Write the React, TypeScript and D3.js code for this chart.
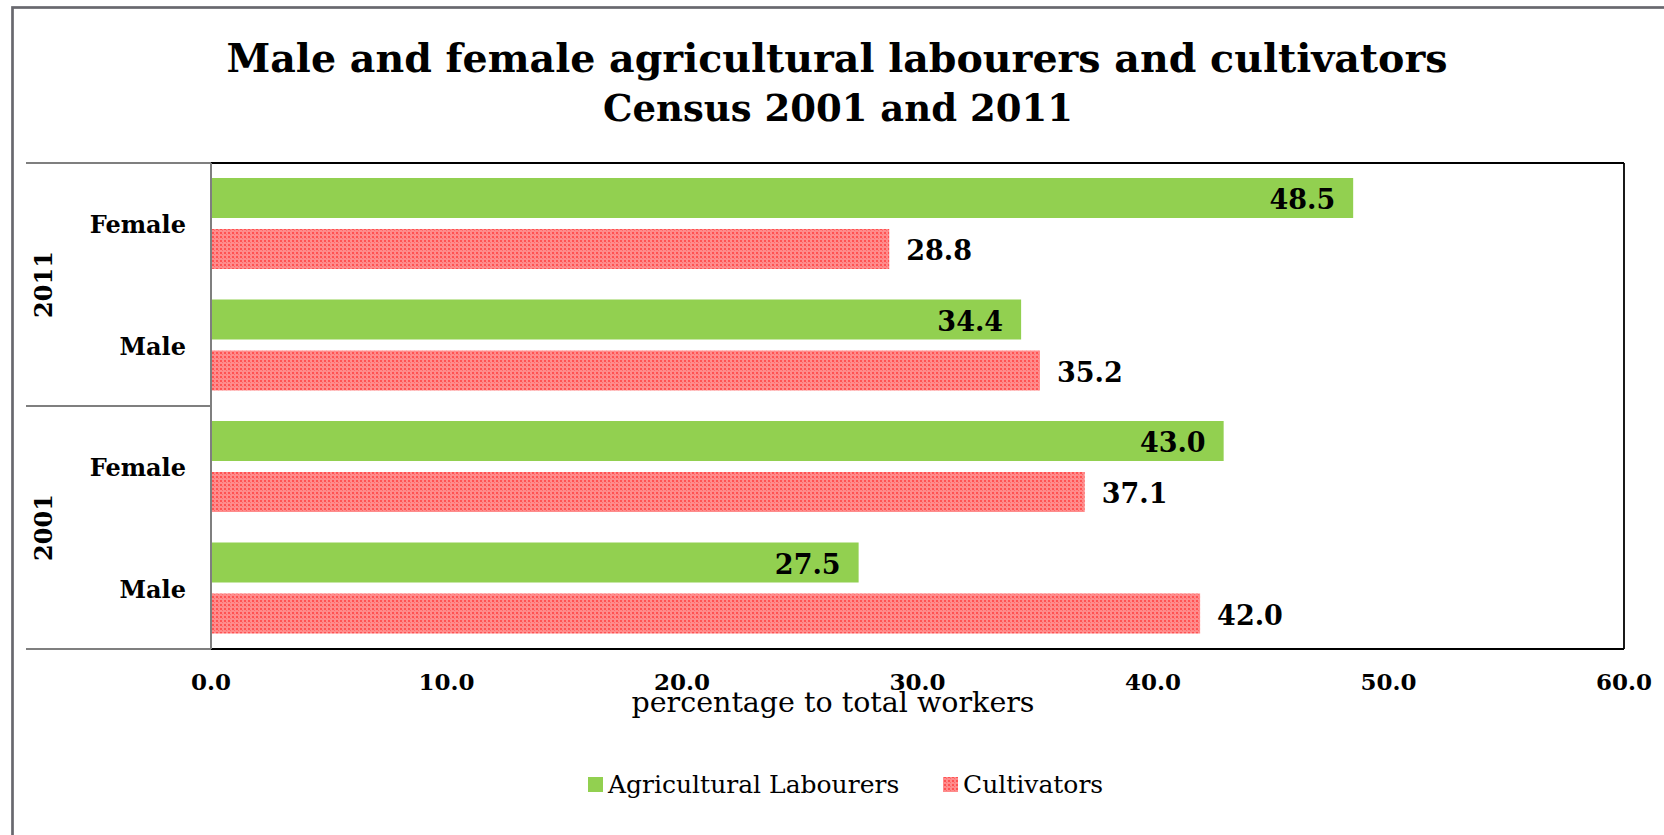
import React from "react";
import * as d3 from "d3";

const years = ["2011", "2001"];
const categories = ["2011 Female", "2011 Male", "2001 Female", "2001 Male"];
const categoryLabels = ["Female", "Male", "Female", "Male"];
const seriesNames = ["Agricultural Labourers", "Cultivators"];
const agriculturalLabourers = [48.5, 34.4, 43.0, 27.5];
const cultivators = [28.8, 35.2, 37.1, 42.0];
const xTicks = [0, 10, 20, 30, 40, 50, 60];
const titleLines = ["Male and female agricultural labourers and cultivators", "Census 2001 and 2011"];
const xAxisTitle = "percentage to total workers";

const W = 1664;
const H = 835;
const plot = { left: 211, right: 1624, top: 163, bottom: 649 };
const FONT = "'DejaVu Serif', 'Liberation Serif', serif";
const GREEN = "#92d050";

export default function App() {
  const x = d3.scaleLinear().domain([0, 60]).range([plot.left, plot.right]);
  const y = d3.scaleBand<string>().domain(categories).range([plot.top, plot.bottom]).padding(0);
  const inner = d3
    .scaleBand<string>()
    .domain(seriesNames)
    .range([15, 106])
    .paddingInner(11 / 51)
    .paddingOuter(0);
  const yearScale = d3.scaleBand<string>().domain(years).range([plot.top, plot.bottom]);
  const seriesValues = [agriculturalLabourers, cultivators];
  const fmt = d3.format(".1f");

  return (
    <svg width={W} height={H} style={{ display: "block", position: "absolute", left: 0, top: 0 }}>
      <defs>
        <pattern id="redDots" width="4" height="4" patternUnits="userSpaceOnUse">
          <rect width="4" height="4" fill="#ff8c8c" />
          <rect x="0" y="0" width="2" height="2" fill="#ff5252" />
          <rect x="2" y="2" width="1" height="1" fill="#ff6a6a" />
        </pattern>
      </defs>
      <rect x={0} y={0} width={W} height={H} fill="#fff" />
      {/* outer frame */}
      <rect x={12.5} y={7.5} width={W + 20} height={H + 20} fill="none" stroke="#68686e" strokeWidth={2.7} />

      {/* title */}
      <text
        x={837}
        y={72}
        textAnchor="middle"
        fontFamily={FONT}
        fontWeight="bold"
        fontSize={39}
        fill="#000"
        textLength={1221}
        lengthAdjust="spacingAndGlyphs"
      >
        {titleLines[0]}
      </text>
      <text
        x={838}
        y={121}
        textAnchor="middle"
        fontFamily={FONT}
        fontWeight="bold"
        fontSize={38}
        fill="#000"
        textLength={470}
        lengthAdjust="spacingAndGlyphs"
      >
        {titleLines[1]}
      </text>

      {/* bars */}
      {categories.map((c, i) =>
        seriesNames.map((s, si) => {
          const v = seriesValues[si][i];
          const y0 = (y(c) as number) + (inner(s) as number);
          const bw = inner.bandwidth();
          return (
            <g key={c + s}>
              <rect
                x={x(0)}
                y={y0}
                width={x(v) - x(0)}
                height={bw}
                fill={si === 0 ? GREEN : "url(#redDots)"}
              />
              <text
                x={si === 0 ? x(v) - 18 : x(v) + 17}
                y={y0 + bw / 2 + 11}
                textAnchor={si === 0 ? "end" : "start"}
                fontFamily={FONT}
                fontWeight="bold"
                fontSize={27}
                fill="#000"
              >
                {fmt(v)}
              </text>
            </g>
          );
        })
      )}

      {/* plot frame */}
      <line x1={plot.left} x2={plot.right} y1={plot.top} y2={plot.top} stroke="#000" strokeWidth={1.8} />
      <line x1={plot.right} x2={plot.right} y1={plot.top} y2={plot.bottom} stroke="#000" strokeWidth={1.8} />
      <line x1={plot.left} x2={plot.right} y1={plot.bottom} y2={plot.bottom} stroke="#000" strokeWidth={1.8} />
      <line x1={plot.left} x2={plot.left} y1={plot.top} y2={plot.bottom} stroke="#7f7f7f" strokeWidth={2} />

      {/* category dividers */}
      {[plot.top, (yearScale("2001") as number), plot.bottom].map((yy, i) => (
        <line key={i} x1={26} x2={plot.left} y1={yy} y2={yy} stroke="#7f7f7f" strokeWidth={2} />
      ))}

      {/* category labels */}
      {categories.map((c, i) => (
        <text
          key={c}
          x={186}
          y={(y(c) as number) + y.bandwidth() / 2 + 9.5}
          textAnchor="end"
          fontFamily={FONT}
          fontWeight="bold"
          fontSize={24}
          fill="#000"
        >
          {categoryLabels[i]}
        </text>
      ))}

      {/* year labels */}
      {years.map((yr) => {
        const cy = (yearScale(yr) as number) + yearScale.bandwidth() / 2;
        return (
          <text
            key={yr}
            transform={`translate(52,${cy}) rotate(-90)`}
            textAnchor="middle"
            fontFamily={FONT}
            fontWeight="bold"
            fontSize={24}
            fill="#000"
          >
            {yr}
          </text>
        );
      })}

      {/* x tick labels */}
      {xTicks.map((t) => (
        <text
          key={t}
          x={x(t)}
          y={690}
          textAnchor="middle"
          fontFamily={FONT}
          fontWeight="bold"
          fontSize={23}
          fill="#000"
        >
          {fmt(t)}
        </text>
      ))}

      {/* x axis title */}
      <text x={833} y={712} textAnchor="middle" fontFamily={FONT} fontSize={28.5} fill="#000">
        {xAxisTitle}
      </text>

      {/* legend */}
      <rect x={588} y={777} width={15} height={15} fill={GREEN} />
      <text x={608} y={793} fontFamily={FONT} fontSize={25} fill="#000">
        {seriesNames[0]}
      </text>
      <rect x={943} y={777} width={15} height={15} fill="url(#redDots)" />
      <text x={963} y={793} fontFamily={FONT} fontSize={25} fill="#000">
        {seriesNames[1]}
      </text>
    </svg>
  );
}
